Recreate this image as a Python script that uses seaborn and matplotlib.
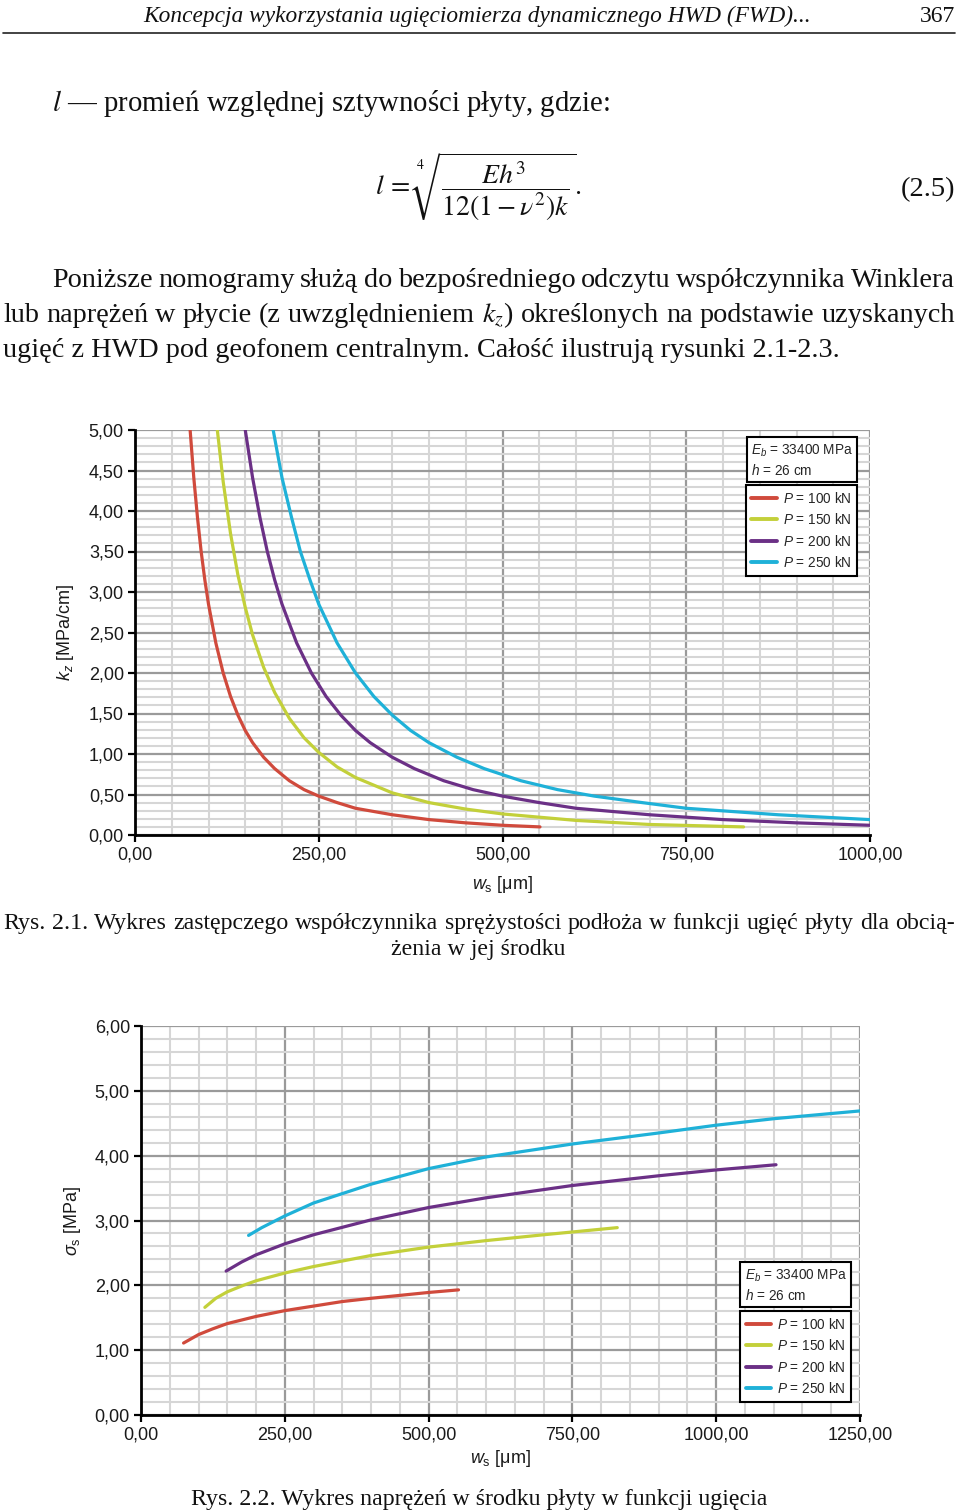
import matplotlib
matplotlib.use("Agg")
import matplotlib.pyplot as plt
from matplotlib.lines import Line2D
from matplotlib.ticker import MultipleLocator, FuncFormatter
from matplotlib.transforms import IdentityTransform
import seaborn as sns
import pandas as pd

# --- dane: rys. 2.1 (kz w funkcji ugięcia) ---
loads = ["$P$ = 100 kN", "$P$ = 150 kN", "$P$ = 200 kN", "$P$ = 250 kN"]
colors = ["#d04a3c", "#c3d03a", "#6b3086", "#1fb1d8"]

w_kz_100 = [75, 80, 85, 90, 95, 100, 110, 120, 130, 140, 150, 160, 175, 190, 210, 230, 250, 275, 300, 350, 400, 450, 500, 551]
kz_100 = [5.00, 4.41, 3.92, 3.50, 3.15, 2.85, 2.37, 2.00, 1.71, 1.48, 1.29, 1.14, 0.96, 0.82, 0.67, 0.56, 0.48, 0.40, 0.33, 0.25, 0.19, 0.15, 0.12, 0.10]
w_kz_150 = [112, 120, 130, 140, 150, 160, 175, 190, 210, 230, 250, 275, 300, 350, 400, 450, 500, 600, 700, 828]
kz_150 = [5.00, 4.36, 3.72, 3.21, 2.81, 2.47, 2.07, 1.76, 1.44, 1.20, 1.02, 0.84, 0.71, 0.52, 0.40, 0.32, 0.26, 0.18, 0.13, 0.10]
w_kz_200 = [150, 160, 170, 180, 190, 200, 220, 240, 260, 280, 300, 320, 350, 380, 420, 460, 500, 550, 600, 700, 800, 900, 1000]
kz_200 = [5.00, 4.41, 3.92, 3.50, 3.15, 2.85, 2.37, 2.00, 1.71, 1.48, 1.29, 1.14, 0.96, 0.82, 0.67, 0.56, 0.48, 0.40, 0.33, 0.25, 0.19, 0.15, 0.12]
w_kz_250 = [188, 200, 213, 225, 238, 250, 275, 300, 325, 350, 375, 400, 438, 475, 525, 575, 625, 690, 750, 875, 1000]
kz_250 = [5.00, 4.41, 3.92, 3.50, 3.15, 2.85, 2.37, 2.00, 1.71, 1.48, 1.29, 1.14, 0.96, 0.82, 0.67, 0.56, 0.48, 0.40, 0.33, 0.25, 0.19]

# --- dane: rys. 2.2 (naprężenia w funkcji ugięcia) ---
w_s_100 = [74, 100, 125, 150, 200, 250, 300, 350, 400, 500, 552]
sig_100 = [1.11, 1.24, 1.33, 1.41, 1.52, 1.61, 1.68, 1.75, 1.80, 1.89, 1.93]
w_s_150 = [111, 130, 150, 178, 200, 250, 300, 400, 500, 600, 700, 828]
sig_150 = [1.66, 1.80, 1.90, 2.00, 2.07, 2.19, 2.29, 2.46, 2.59, 2.69, 2.78, 2.89]
w_s_200 = [148, 175, 200, 250, 300, 400, 500, 600, 750, 900, 1000, 1104]
sig_200 = [2.22, 2.36, 2.47, 2.64, 2.78, 3.01, 3.20, 3.35, 3.54, 3.69, 3.78, 3.86]
w_s_250 = [187, 210, 250, 300, 400, 500, 600, 750, 900, 1000, 1100, 1250]
sig_250 = [2.77, 2.89, 3.07, 3.27, 3.56, 3.80, 3.98, 4.18, 4.35, 4.47, 4.57, 4.69]


def long_df(ws, ys):
    rows = []
    for lab, w, y in zip(loads, ws, ys):
        rows += [(lab, a, b) for a, b in zip(w, y)]
    return pd.DataFrame(rows, columns=["P", "w", "y"])


df_kz = long_df([w_kz_100, w_kz_150, w_kz_200, w_kz_250], [kz_100, kz_150, kz_200, kz_250])
df_sig = long_df([w_s_100, w_s_150, w_s_200, w_s_250], [sig_100, sig_150, sig_200, sig_250])

sns.set_theme(style="white")
plt.rcParams["font.family"] = ["Liberation Sans", "DejaVu Sans"]
plt.rcParams["mathtext.fontset"] = "custom"
plt.rcParams["mathtext.rm"] = "Liberation Sans"
plt.rcParams["mathtext.it"] = "Liberation Sans:italic"
plt.rcParams["mathtext.bf"] = "Liberation Sans:bold"

W, H = 960, 1512
fig = plt.figure(figsize=(W / 100, H / 100), dpi=100)
ID = IdentityTransform()
R = fig.canvas.get_renderer()
SERIF = ["Liberation Serif", "DejaVu Serif"]


def put(x, y, s, size, ha="left", style="normal"):
    return fig.text(x, H - y, s, transform=ID, fontsize=size, ha=ha, va="baseline",
                    family=SERIF, style=style, math_fontfamily="stix", color="#111111")


def width(t):
    return t.get_window_extent(renderer=R).width


def fit(x0, x1, y, s, size, style="normal"):
    t = put(x0, y, s, size, style=style)
    t.set_fontsize(size * (x1 - x0) / width(t))
    return t


def justify(x0, x1, y, s, size):
    ts = [put(0, y, w, size) for w in s.split(" ")]
    ws = [width(t) for t in ts]
    gap = (x1 - x0 - sum(ws)) / (len(ts) - 1)
    x = x0
    for t, w in zip(ts, ws):
        t.set_x(x)
        x += w + gap


# nagłówek strony
fit(143, 812, 22, "Koncepcja wykorzystania ugięciomierza dynamicznego HWD (FWD)...", 17, style="italic")
put(955, 22, "367", 17, ha="right")
fig.add_artist(Line2D([3, 955], [H - 33, H - 33], transform=ID, color="#222222", lw=1.2))

put(52, 111, "$l$ — promień względnej sztywności płyty, gdzie:", 20.7)
fig.text(375, H - 187, r"$l\,=\,\sqrt[4]{\dfrac{Eh^3}{12\left(1-\nu^2\right)k}}.$", transform=ID,
         fontsize=20, ha="left", va="center", math_fontfamily="stix", color="#111111")
put(955, 196, "(2.5)", 20.5, ha="right")

body = 20.3
justify(52, 955, 287, "Poniższe nomogramy służą do bezpośredniego odczytu współczynnika Winklera", body)
justify(3, 955, 322, "lub naprężeń w płycie (z uwzględnieniem $k_z$) określonych na podstawie uzyskanych", body)
put(3, 357, "ugięć z HWD pod geofonem centralnym. Całość ilustrują rysunki 2.1-2.3.", body)

cap = 17.2
justify(3, 955, 929, "Rys. 2.1. Wykres zastępczego współczynnika sprężystości podłoża w funkcji ugięć płyty dla obcią-", cap)
put(478, 955, "żenia w jej środku", cap, ha="center")
put(479, 1505, "Rys. 2.2. Wykres naprężeń w środku płyty w funkcji ugięcia", cap, ha="center")

comma = FuncFormatter(lambda v, p: f"{v:.2f}".replace(".", ","))


def style_axes(ax, df, xmax, xmaj, ymax, ymaj, ymin_step, ylab, ylx, xly, box_xy, leg_xy):
    sns.lineplot(data=df, x="w", y="y", hue="P", palette=dict(zip(loads, colors)),
                 lw=2.3, sort=False, estimator=None, ax=ax)
    ax.set_xlim(0, xmax)
    ax.set_ylim(0, ymax)
    ax.xaxis.set_major_locator(MultipleLocator(xmaj))
    ax.xaxis.set_minor_locator(MultipleLocator(50))
    ax.yaxis.set_major_locator(MultipleLocator(ymaj))
    ax.yaxis.set_minor_locator(MultipleLocator(ymin_step))
    ax.xaxis.set_major_formatter(comma)
    ax.yaxis.set_major_formatter(comma)
    ax.set_axisbelow(True)
    ax.grid(which="minor", color="#d6d6d6", lw=1.5)
    ax.grid(which="major", color="#9a9a9a", lw=1.6)
    for s in ["top", "right"]:
        ax.spines[s].set_visible(False)
    for s in ["left", "bottom"]:
        ax.spines[s].set_color("black")
        ax.spines[s].set_linewidth(2)
    ax.tick_params(which="major", direction="out", length=5, width=1.6, color="black",
                   labelsize=13, labelcolor="#1a1a1a", pad=3, left=True, bottom=True)
    ax.tick_params(which="minor", length=0)
    ax.set_ylabel(ylab, fontsize=13, color="#1a1a1a")
    ax.set_xlabel(r"$w_\mathrm{s}$ [μm]", fontsize=13, va="top", color="#1a1a1a")
    ax.yaxis.set_label_coords(ylx, 0.5)
    ax.xaxis.set_label_coords(0.5, xly)
    ax.text(box_xy[0], box_xy[1], "$E_b$ = 33400 MPa\n$h$ = 26 cm", transform=ax.transAxes,
            ha="right", va="top", multialignment="left", fontsize=9.8, linespacing=1.35,
            zorder=5, bbox=dict(boxstyle="square,pad=0.3", fc="white", ec="black", lw=1.5))
    handles, labels = ax.get_legend_handles_labels()
    leg = ax.legend(handles, labels, loc="upper right", bbox_to_anchor=leg_xy, frameon=True,
                    fancybox=False, edgecolor="black", framealpha=1, fontsize=9.8,
                    handlelength=1.9, handletextpad=0.4, borderpad=0.4, labelspacing=0.48,
                    borderaxespad=0)
    leg.get_frame().set_linewidth(1.5)
    for h in leg.get_lines():
        h.set_linewidth(2.8)


ax1 = fig.add_axes([135 / W, 1 - 835 / H, 735 / W, 405 / H])
style_axes(ax1, df_kz, 1000, 250, 5, 0.5, 0.1, r"$k_z$ [MPa/cm]", -0.080, -0.096,
           (0.977, 0.970), (0.982, 0.864))

ax2 = fig.add_axes([141 / W, 1 - 1415 / H, 719 / W, 389 / H])
style_axes(ax2, df_sig, 1250, 250, 6, 1, 0.2, r"$\sigma_\mathrm{s}$ [MPa]", -0.081, -0.085,
           (0.9815, 0.380), (0.9875, 0.267))

fig.savefig("out.png", dpi=100)
